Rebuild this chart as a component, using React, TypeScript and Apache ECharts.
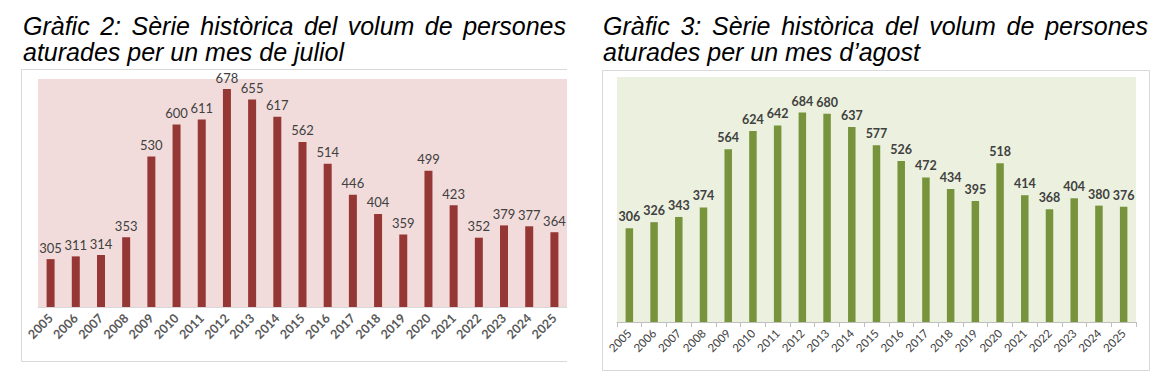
import React, { useEffect, useRef } from "react";
import * as echarts from "echarts";

const years = ["2005", "2006", "2007", "2008", "2009", "2010", "2011", "2012", "2013", "2014", "2015", "2016", "2017", "2018", "2019", "2020", "2021", "2022", "2023", "2024", "2025"];
const juliolValues = [305, 311, 314, 353, 530, 600, 611, 678, 655, 617, 562, 514, 446, 404, 359, 499, 423, 352, 379, 377, 364];
const agostValues = [306, 326, 343, 374, 564, 624, 642, 684, 680, 637, 577, 526, 472, 434, 395, 518, 414, 368, 404, 380, 376];

const title2Line1 = "Gràfic 2: Sèrie històrica del volum de persones";
const title2Line2 = "aturades per un mes de juliol";
const title3Line1 = "Gràfic 3: Sèrie històrica del volum de persones";
const title3Line2 = "aturades per un mes d’agost";

const TITLE_FAMILY = '"Liberation Sans", Arial, sans-serif';
const TITLE_SIZE = 25;
const LABEL_FAMILY = "Lato, 'Open Sans', sans-serif";

function measure(text: string): number {
  const ctx = document.createElement("canvas").getContext("2d");
  if (!ctx) return text.length * TITLE_SIZE * 0.5;
  ctx.font = `italic ${TITLE_SIZE}px ${TITLE_FAMILY}`;
  return ctx.measureText(text).width;
}

function titleText(text: string, x: number, y: number) {
  return {
    type: "text",
    x,
    y,
    silent: true,
    style: {
      text,
      fontSize: TITLE_SIZE,
      fontFamily: TITLE_FAMILY,
      fontStyle: "italic",
      fill: "#000",
      verticalAlign: "middle",
      align: "left",
    },
  };
}

function justifiedLine(line: string, x0: number, x1: number, y: number) {
  const words = line.split(" ");
  const widths = words.map(measure);
  const total = widths.reduce((a, b) => a + b, 0);
  const gap = (x1 - x0 - total) / (words.length - 1);
  let x = x0;
  return words.map((w, i) => {
    const el = titleText(w, x, y);
    x += widths[i] + gap;
    return el;
  });
}

type Cfg = {
  values: number[];
  line1: string;
  line2: string;
  titleX0: number;
  titleX1: number;
  frame: { x: number; y: number; w: number; h: number };
  grid: { left: number; top: number; width: number; height: number };
  bg: string;
  bar: string;
  barWidth: number;
  yMin: number;
  yMax: number;
  labelBold: boolean;
  labelSize: number;
  yearBold: boolean;
  yearSize: number;
  yearColor: string;
  axisColor: string;
  ticks: boolean;
};

function buildOption(c: Cfg) {
  return {
    animation: false,
    graphic: [
      {
        type: "rect",
        z: -10,
        silent: true,
        shape: { x: c.frame.x + 0.5, y: c.frame.y + 0.5, width: c.frame.w, height: c.frame.h },
        style: { fill: "#fff", stroke: "#d9d9d9", lineWidth: 1 },
      },
      ...justifiedLine(c.line1, c.titleX0, c.titleX1, 26),
      titleText(c.line2, c.titleX0, 52),
    ],
    grid: {
      left: c.grid.left,
      top: c.grid.top,
      width: c.grid.width,
      height: c.grid.height,
      show: true,
      backgroundColor: c.bg,
      borderWidth: 0,
      containLabel: false,
    },
    xAxis: {
      type: "category",
      data: years,
      axisLine: { show: true, lineStyle: { color: c.axisColor, width: 1 } },
      axisTick: { show: c.ticks, length: 5, lineStyle: { color: c.axisColor } },
      axisLabel: {
        interval: 0,
        rotate: 45,
        margin: 9,
        color: c.yearColor,
        fontFamily: LABEL_FAMILY,
        fontWeight: c.yearBold ? "bold" : "normal",
        fontSize: c.yearSize,
      },
      splitLine: { show: false },
    },
    yAxis: {
      type: "value",
      min: c.yMin,
      max: c.yMax,
      startValue: c.yMin,
      show: false,
      splitLine: { show: false },
    },
    series: [
      {
        type: "bar",
        data: c.values,
        barWidth: c.barWidth,
        clip: true,
        itemStyle: { color: c.bar },
        label: {
          show: true,
          position: "top",
          distance: 5,
          color: "#404040",
          fontFamily: LABEL_FAMILY,
          fontWeight: c.labelBold ? "bold" : "normal",
          fontSize: c.labelSize,
        },
      },
    ],
  };
}

const leftCfg: Cfg = {
  values: juliolValues,
  line1: title2Line1,
  line2: title2Line2,
  titleX0: 23,
  titleX1: 566,
  frame: { x: 21, y: 69, w: 600, h: 292 },
  grid: { left: 38, top: 79, width: 533, height: 228 },
  bg: "#F2DCDB",
  bar: "#953735",
  barWidth: 8,
  yMin: 200,
  yMax: 700,
  labelBold: false,
  labelSize: 13,
  yearBold: true,
  yearSize: 12.5,
  yearColor: "#595959",
  axisColor: "#d9d9d9",
  ticks: false,
};

const rightCfg: Cfg = {
  values: agostValues,
  line1: title3Line1,
  line2: title3Line2,
  titleX0: 36,
  titleX1: 581,
  frame: { x: 35, y: 70, w: 547, h: 300 },
  grid: { left: 50, top: 77, width: 519, height: 245 },
  bg: "#EBF1DE",
  bar: "#77933C",
  barWidth: 7.5,
  yMin: 0,
  yMax: 800,
  labelBold: true,
  labelSize: 12.5,
  yearBold: false,
  yearSize: 11.5,
  yearColor: "#404040",
  axisColor: "#bfbfbf",
  ticks: true,
};

function Chart({ cfg, left, width }: { cfg: Cfg; left: number; width: number }) {
  const ref = useRef<HTMLDivElement>(null);
  useEffect(() => {
    if (!ref.current) return;
    const chart = echarts.init(ref.current, undefined, { renderer: "svg" });
    chart.setOption(buildOption(cfg) as any);
    return () => chart.dispose();
  }, [cfg]);
  return (
    <div
      ref={ref}
      style={{ position: "absolute", left, top: 0, width, height: 389, overflow: "hidden" }}
    />
  );
}

export default function App() {
  return (
    <div style={{ position: "absolute", left: 0, top: 0, width: 1167, height: 389, background: "#fff", overflow: "hidden" }}>
      <Chart cfg={leftCfg} left={0} width={567} />
      <Chart cfg={rightCfg} left={567} width={600} />
    </div>
  );
}
